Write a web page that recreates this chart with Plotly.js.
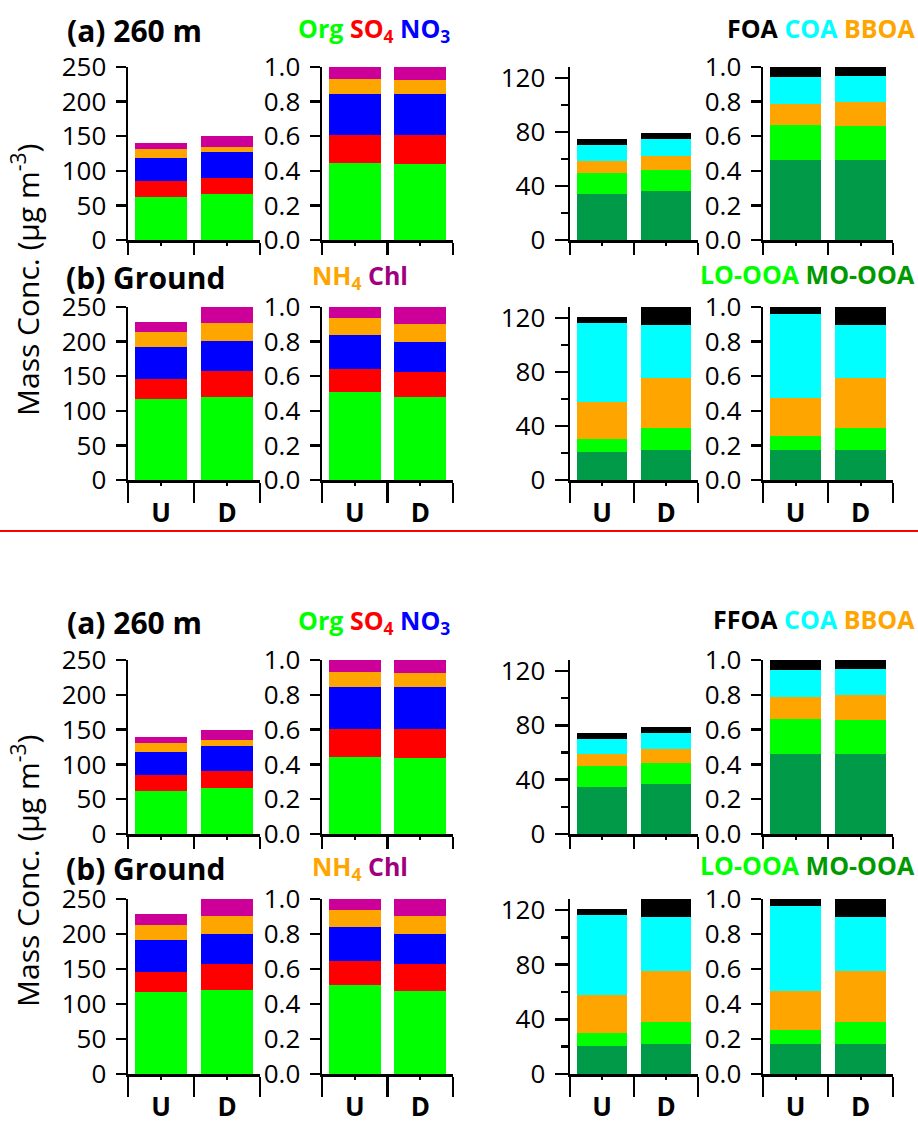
<!DOCTYPE html>
<html>
<head>
<meta charset="utf-8">
<script src="https://cdn.plot.ly/plotly-3.0.1.min.js"></script>
<style>
  html, body { margin: 0; padding: 0; background: #fff; }
  #chart { width: 918px; height: 1129px; }
</style>
</head>
<body>
<div id="chart"></div>
<script>
// Sites: upwind (U) and downwind (D)
const sites = ['U', 'D'];
const siteLabels = ['<b>U</b>', '<b>D</b>'];

// Inorganic + organic species at 260 m (µg m-3)
const org260 = [62.5, 66.8];
const so4_260 = [22.6, 23.1];
const no3_260 = [33.2, 37.0];
const nh4_260 = [13.0, 8.2];
const chl_260 = [8.6, 14.9];

// Species mass fractions at 260 m
const orgFr260 = [0.444, 0.438];
const so4Fr260 = [0.162, 0.168];
const no3Fr260 = [0.236, 0.236];
const nh4Fr260 = [0.087, 0.081];
const chlFr260 = [0.071, 0.077];

// Species at ground level (µg m-3)
const orgGnd = [116.8, 119.7];
const so4Gnd = [28.9, 37.5];
const no3Gnd = [46.1, 43.3];
const nh4Gnd = [21.7, 25.9];
const chlGnd = [14.4, 24.6];

// Species mass fractions at ground level
const orgFrGnd = [0.511, 0.477];
const so4FrGnd = [0.133, 0.149];
const no3FrGnd = [0.195, 0.173];
const nh4FrGnd = [0.098, 0.103];
const chlFrGnd = [0.063, 0.098];

// OA factors at 260 m (µg m-3)
const moooa260 = [34.4, 36.6];
const looa260 = [15.4, 15.4];
const bboa260 = [9.0, 10.2];
const coa260 = [11.4, 12.4];
const foa260 = [4.4, 4.4];

// OA factor fractions at 260 m
const moooaFr260 = [0.462, 0.462];
const looaFr260 = [0.201, 0.196];
const bboaFr260 = [0.124, 0.140];
const coaFr260 = [0.153, 0.148];
const foaFr260 = [0.060, 0.054];

// OA factors at ground level (µg m-3)
const moooaGnd = [20.6, 22.0];
const looaGnd = [9.5, 16.2];
const bboaGnd = [27.5, 37.0];
const coaGnd = [58.7, 39.4];
const foaGnd = [4.2, 13.2];

// OA factor fractions at ground level
const moooaFrGnd = [0.172, 0.172];
const looaFrGnd = [0.081, 0.127];
const bboaFrGnd = [0.220, 0.289];
const coaFrGnd = [0.487, 0.309];
const foaFrGnd = [0.040, 0.103];

// Colours
const C = {
  org: '#00ff00', so4: '#ff0000', no3: '#0000ff', nh4: '#ffa500', chl: '#cc0099',
  mo: '#009a49', lo: '#00ff00', bboa: '#ffa500', coa: '#00ffff', foa: '#000000'
};

const W = 918, H = 1129;
const FONT = 'Open Sans, Noto Sans, sans-serif';
const px = x => x / W;
const py = y => 1 - y / H;

// Column extents (pixels) and row extents for each of the two figure blocks
const colsPx = [[128, 260], [322, 453], [570, 698], [763, 893]];
const blocks = [
  { rows: [[67, 240], [307, 480]], shift: 0, foaName: 'FOA' },
  { rows: [[660, 834], [899, 1074]], shift: 591, foaName: 'FFOA' }
];

// Panel content: [row][col] -> list of [values, colour]
const panels = [
  [
    [[org260, C.org], [so4_260, C.so4], [no3_260, C.no3], [nh4_260, C.nh4], [chl_260, C.chl]],
    [[orgFr260, C.org], [so4Fr260, C.so4], [no3Fr260, C.no3], [nh4Fr260, C.nh4], [chlFr260, C.chl]],
    [[moooa260, C.mo], [looa260, C.lo], [bboa260, C.bboa], [coa260, C.coa], [foa260, C.foa]],
    [[moooaFr260, C.mo], [looaFr260, C.lo], [bboaFr260, C.bboa], [coaFr260, C.coa], [foaFr260, C.foa]]
  ],
  [
    [[orgGnd, C.org], [so4Gnd, C.so4], [no3Gnd, C.no3], [nh4Gnd, C.nh4], [chlGnd, C.chl]],
    [[orgFrGnd, C.org], [so4FrGnd, C.so4], [no3FrGnd, C.no3], [nh4FrGnd, C.nh4], [chlFrGnd, C.chl]],
    [[moooaGnd, C.mo], [looaGnd, C.lo], [bboaGnd, C.bboa], [coaGnd, C.coa], [foaGnd, C.foa]],
    [[moooaFrGnd, C.mo], [looaFrGnd, C.lo], [bboaFrGnd, C.bboa], [coaFrGnd, C.coa], [foaFrGnd, C.foa]]
  ]
];

const yCfg = [
  { range: [0, 250], tickvals: [0, 50, 100, 150, 200, 250], fmt: 'd', ticklen: 10, minor: null },
  { range: [0, 1], tickvals: [0, 0.2, 0.4, 0.6, 0.8, 1.0], fmt: '.1f', ticklen: 10, minor: null },
  { range: [0, 128], tickvals: [0, 40, 80, 120], fmt: 'd', ticklen: 13, minor: [20, 60, 100] },
  { range: [0, 1], tickvals: [0, 0.2, 0.4, 0.6, 0.8, 1.0], fmt: '.1f', ticklen: 10, minor: null }
];

const traces = [];
const layout = {
  width: W, height: H,
  margin: { l: 0, r: 0, t: 0, b: 0 },
  paper_bgcolor: '#ffffff',
  plot_bgcolor: 'rgba(0,0,0,0)',
  barmode: 'stack',
  bargap: 0,
  showlegend: false,
  font: { family: FONT, color: '#000' },
  annotations: [],
  shapes: []
};

let n = 0;
blocks.forEach(block => {
  block.rows.forEach((rowPx, r) => {
    colsPx.forEach((colPx, c) => {
      n += 1;
      const xa = n === 1 ? 'xaxis' : 'xaxis' + n;
      const ya = n === 1 ? 'yaxis' : 'yaxis' + n;
      const xr = n === 1 ? 'x' : 'x' + n;
      const yr = n === 1 ? 'y' : 'y' + n;
      panels[r][c].forEach(([vals, col]) => {
        traces.push({
          type: 'bar', x: [0, 1], y: vals, xaxis: xr, yaxis: yr,
          width: 0.79, marker: { color: col, line: { width: 0 } },
          cliponaxis: false, hoverinfo: 'y'
        });
      });
      const isBottom = r === 1;
      layout[xa] = {
        domain: [px(colPx[0]), px(colPx[1])],
        anchor: yr,
        range: [-0.5, 1.5],
        tickmode: 'array', tickvals: [0, 1], ticktext: siteLabels,
        showticklabels: isBottom,
        ticks: 'outside', ticklen: 3, tickwidth: 2, tickcolor: '#000',
        ticklabelstandoff: 5,
        tickfont: { family: FONT, size: 26, color: '#000' },
        minor: {
          tickmode: 'array', tickvals: [-0.5, 0.5, 1.5],
          ticks: 'outside', ticklen: isBottom ? 20 : 12, tickwidth: 2.5, tickcolor: '#000',
          showgrid: false
        },
        showline: true, linewidth: 2.5, linecolor: '#000',
        showgrid: false, zeroline: false, fixedrange: true
      };
      const yc = yCfg[c];
      layout[ya] = {
        domain: [py(rowPx[1]), py(rowPx[0])],
        anchor: xr,
        range: yc.range,
        tickmode: 'array', tickvals: yc.tickvals, tickformat: yc.fmt,
        ticks: 'outside', ticklen: yc.ticklen, tickwidth: 2.5, tickcolor: '#000',
        ticklabelstandoff: 4,
        tickfont: { family: FONT, size: 26, color: '#000' },
        showline: true, linewidth: 2.5, linecolor: '#000',
        showgrid: false, zeroline: false, fixedrange: true
      };
      if (yc.minor) {
        layout[ya].minor = {
          tickmode: 'array', tickvals: yc.minor,
          ticks: 'outside', ticklen: 7, tickwidth: 2.5, tickcolor: '#000', showgrid: false
        };
      }
    });
  });

  // Panel titles and colour keys
  const s = block.shift;
  const ann = (x, y, text, size, anchor) => layout.annotations.push({
    xref: 'paper', yref: 'paper', x: px(x), y: py(y + s), text: text,
    showarrow: false, xanchor: anchor, yanchor: 'middle',
    font: { family: FONT, size: size, color: '#000' }
  });
  ann(65, 31, '<b>(a) 260 m</b>', 30, 'left');
  ann(296, 30, '<b><span style="color:#00ff00">Org</span> <span style="color:#ff0000">SO<sub>4</sub></span> <span style="color:#0000ff">NO<sub>3</sub></span></b>', 25, 'left');
  ann(917, 28, '<b><span style="color:#000000">' + block.foaName + '</span> <span style="color:#00ffff">COA</span> <span style="color:#ffa500">BBOA</span></b>', 25, 'right');
  ann(64, 277, '<b>(b) Ground</b>', 30, 'left');
  ann(310, 276, '<b><span style="color:#ffa500">NH<sub>4</sub></span> <span style="color:#a0007f">Chl</span></b>', 25, 'left');
  ann(917, 274, '<b><span style="color:#00ff00">LO-OOA</span> <span style="color:#009900">MO-OOA</span></b>', 25, 'right');

  // Shared y-axis title
  layout.annotations.push({
    xref: 'paper', yref: 'paper', x: px(26), y: py(280 + s),
    text: 'Mass Conc. (µg m<sup>-3</sup>)', textangle: -90, showarrow: false,
    xanchor: 'center', yanchor: 'middle',
    font: { family: FONT, size: 30, color: '#000' }
  });
});

// Separator between the two figure blocks
layout.shapes.push({
  type: 'line', xref: 'paper', yref: 'paper',
  x0: 0, x1: 1, y0: py(531), y1: py(531),
  line: { color: '#ff0000', width: 2 }
});

Plotly.newPlot('chart', traces, layout, { displayModeBar: false, staticPlot: true });
</script>
</body>
</html>
